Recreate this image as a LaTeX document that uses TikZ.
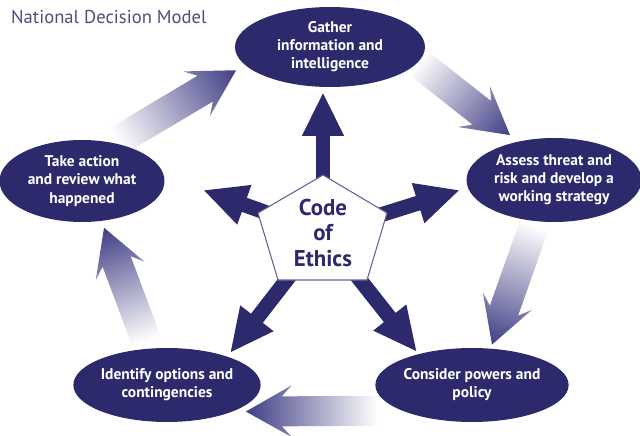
\documentclass[tikz,border=0pt]{standalone}
\usepackage{fontspec}
\setmainfont{PT Sans}
\usetikzlibrary{calc,shapes.geometric,arrows.meta,backgrounds}
\definecolor{ndmnavy}{RGB}{44,42,108}
\definecolor{ndmfade}{RGB}{64,62,132}
\definecolor{ndmtitle}{RGB}{78,78,122}
\definecolor{ndmedge}{RGB}{100,98,140}
\tikzset{
	stage/.style={ellipse, fill=ndmnavy, text=white, inner sep=0pt, align=center,
		font=\bfseries\fontsize{8.8}{10.3}\selectfont},
	spoke/.style={ndmnavy, line width=8.5pt, -{Triangle[length=25pt,width=22pt]}},
}
% shaded block arrow between two points: (from)(to)(cut at start:cut at end)
\def\fadearrow(#1)(#2)(#3:#4){%
	\path let \p1=(#1), \p2=($(#2)-(#1)$) in
		\pgfextra{\pgfmathsetmacro\fadeA{atan2(\y2,\x2)}\xdef\fadeang{\fadeA}%
			\pgfmathsetmacro\fadeL{veclen(\x2,\y2)/0.569055}\xdef\fadelen{\fadeL}%
			\xdef\fadex{\x1}\xdef\fadey{\y1}};
	\begin{scope}[transform canvas={shift={(\fadex,\fadey)},rotate=\fadeang}]
		\shade[left color=white, right color=ndmfade]
			(#3,-15) -- ({\fadelen-#4-36},-15) -- ({\fadelen-#4-46},-26) -- ({\fadelen-#4},0)
			-- ({\fadelen-#4-46},26) -- ({\fadelen-#4-36},15) -- (#3,15) -- cycle;
	\end{scope}}

\begin{document}
\begin{tikzpicture}[x=0.02cm, y=-0.02cm]
		%%%%% START %%%%%
		\useasboundingbox (0,0) rectangle (640,436);
		
		\node[anchor=west, text=ndmtitle, font=\fontsize{10.6}{12}\selectfont] (title) at (5,17) {National Decision Model};
		
		% the five stages
		\node[stage, minimum width=3.8cm, minimum height=1.6cm] (gather) at (330,47) {Gather\\information and\\intelligence};
		\node[stage, minimum width=3.5cm, minimum height=1.68cm] (assess) at (554,180) {Assess threat and\\risk and develop a\\working strategy};
		\node[stage, minimum width=3.5cm, minimum height=1.48cm] (consider) at (472,385) {Consider powers and\\policy};
		\node[stage, minimum width=3.6cm, minimum height=1.48cm] (identify) at (167,385) {Identify options and\\contingencies};
		\node[stage, minimum width=3.3cm, minimum height=1.64cm] (review) at (82,181) {Take action\\and review what\\happened};
		
		% cycle arrows
		\begin{pgfonlayer}{background}
			\fadearrow(review.50)(gather.192)(4:10)
			\fadearrow(gather.-10)(assess.133)(0:10)
			\fadearrow(assess.246)(consider.63)(4:4)
			\fadearrow(consider.200)(identify.-22)(24:13)
			\fadearrow(identify.116)(review.-64)(8:7)
		\end{pgfonlayer}
		
		% code of ethics in the middle
		\coordinate (hub) at (323,233);
		\coordinate (tipup) at (323,92);
		\coordinate (tipleft) at (203,190);
		\coordinate (tipright) at (460,190);
		\coordinate (tipdl) at (230,353);
		\coordinate (tipdr) at (417,352);
		
		\draw[spoke] (hub) -- (tipup);
		\draw[spoke] (hub) -- (tipleft);
		\draw[spoke] (hub) -- (tipright);
		\draw[spoke] (hub) -- (tipdl);
		\draw[spoke] (hub) -- (tipdr);
		
		\draw[line width=0.6pt, color=ndmedge, fill=white] (323,175) -- (387,213) -- (367,280) -- (278,280) -- (258,213) -- cycle;
		\node[text=ndmnavy, align=center, font=\bfseries\fontsize{13}{14.6}\selectfont] (ethics) at (hub) {Code\\of\\Ethics};
		
		%%%%% END %%%%%
\end{tikzpicture}
\end{document}
